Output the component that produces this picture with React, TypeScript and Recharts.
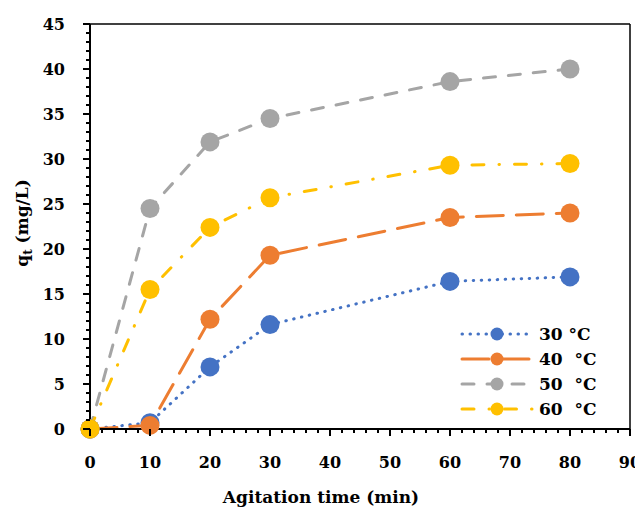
import { Line, LineChart, ReferenceLine, XAxis, YAxis } from "recharts";

const times = [0, 10, 20, 30, 60, 80];
const q30 = [0, 0.7, 6.9, 11.6, 16.4, 16.9];
const q40 = [0, 0.4, 12.2, 19.3, 23.5, 24.0];
const q50 = [0, 24.5, 31.9, 34.5, 38.6, 40.0];
const q60 = [0, 15.5, 22.4, 25.7, 29.3, 29.5];

const xTicks = Array.from({ length: 46 }, (_, i) => i * 2);
const yTicks = Array.from({ length: 46 }, (_, i) => i);

const FONT = "'DejaVu Serif', serif";
// plot edges, fixed by the chart margins below
const AXIS_X = 90;
const AXIS_Y = 429;

const series = [
  { key: "q30", name: "30 °C", color: "#4472C4", dash: "0.5 7.5" },
  { key: "q40", name: "40  °C", color: "#ED7D31", dash: "27 13" },
  { key: "q50", name: "50  °C", color: "#A5A5A5", dash: "12 13" },
  { key: "q60", name: "60  °C", color: "#FFC000", dash: "12 15 0.5 15" },
];

const data = times.map((t, i) => ({
  t,
  q30: q30[i],
  q40: q40[i],
  q50: q50[i],
  q60: q60[i],
}));

function XTick(props: any) {
  const { x, payload } = props;
  const v = payload.value as number;
  const major = v % 10 === 0;
  const y = AXIS_Y;
  return (
    <g>
      <line x1={x} x2={x} y1={y} y2={y + (major ? 7 : 4)} stroke="#000" strokeWidth={2} />
      {major && (
        <text x={x} y={y + 39} textAnchor="middle" fontFamily={FONT} fontWeight="bold" fontSize={16} fill="#000">
          {v}
        </text>
      )}
    </g>
  );
}

function YTick(props: any) {
  const { y, payload } = props;
  const v = payload.value as number;
  const major = v % 5 === 0;
  const x = AXIS_X;
  return (
    <g>
      <line x1={x} x2={x - (major ? 7 : 4)} y1={y} y2={y} stroke="#000" strokeWidth={2} />
      {major && (
        <text x={x - 25} y={y + 6} textAnchor="end" fontFamily={FONT} fontWeight="bold" fontSize={16} fill="#000">
          {v}
        </text>
      )}
    </g>
  );
}

function YLabel() {
  return (
    <text
      transform="rotate(-90, 28, 223)"
      x={28}
      y={223}
      textAnchor="middle"
      fontFamily={FONT}
      fontWeight="bold"
      fontSize={17}
      fill="#000"
    >
      q<tspan fontSize={12} dy={4}>t</tspan>
      <tspan dy={-4}> (mg/L)</tspan>
    </text>
  );
}

function XLabel() {
  return (
    <text x={321} y={503} textAnchor="middle" fontFamily={FONT} fontWeight="bold" fontSize={17} fill="#000">
      Agitation time (min)
    </text>
  );
}

function LegendBox() {
  return (
    <svg width={180} height={100} style={{ position: "absolute", left: 458, top: 322 }}>
      {series.map((s, i) => {
        const cy = 12 + i * 25;
        return (
          <g key={s.key}>
            <line
              x1={4}
              x2={74}
              y1={cy}
              y2={cy}
              stroke={s.color}
              strokeWidth={3}
              strokeDasharray={s.dash}
              strokeLinecap="round"
            />
            <circle cx={39} cy={cy} r={6.5} fill={s.color} />
            <text x={81} y={cy + 6} fontFamily={FONT} fontWeight="bold" fontSize={17} fill="#000" style={{ whiteSpace: "pre" }}>
              {s.name}
            </text>
          </g>
        );
      })}
    </svg>
  );
}

export default function App() {
  return (
    <div style={{ marginLeft: -8, marginTop: -8, background: "#fff", width: 643, height: 509, position: "relative" }}>
      <LineChart width={643} height={509} data={data} margin={{ top: 24, right: 13, left: 30, bottom: 30 }}>
        <XAxis
          type="number"
          dataKey="t"
          domain={[0, 90]}
          ticks={xTicks}
          interval={0}
          tickLine={false}
          tickSize={0}
          tickMargin={0}
          tick={<XTick />}
          axisLine={{ stroke: "#000", strokeWidth: 2 }}
          height={50}
          label={<XLabel />}
        />
        <YAxis
          type="number"
          domain={[0, 45]}
          ticks={yTicks}
          interval={0}
          tickLine={false}
          tickSize={0}
          tickMargin={0}
          tick={<YTick />}
          axisLine={{ stroke: "#000", strokeWidth: 2 }}
          width={60}
          label={<YLabel />}
        />
        <ReferenceLine x={90} stroke="#000" strokeWidth={1.5} />
        <ReferenceLine y={45} stroke="#000" strokeWidth={1.5} />
        {series.map((s) => (
          <Line
            key={s.key}
            type="linear"
            dataKey={s.key}
            name={s.name}
            stroke={s.color}
            strokeWidth={3}
            strokeDasharray={s.dash}
            strokeLinecap="round"
            dot={{ r: 9.5, fill: s.color, stroke: s.color, strokeWidth: 0, strokeDasharray: "" }}
            activeDot={false}
            isAnimationActive={false}
          />
        ))}
      </LineChart>
      <LegendBox />
    </div>
  );
}
